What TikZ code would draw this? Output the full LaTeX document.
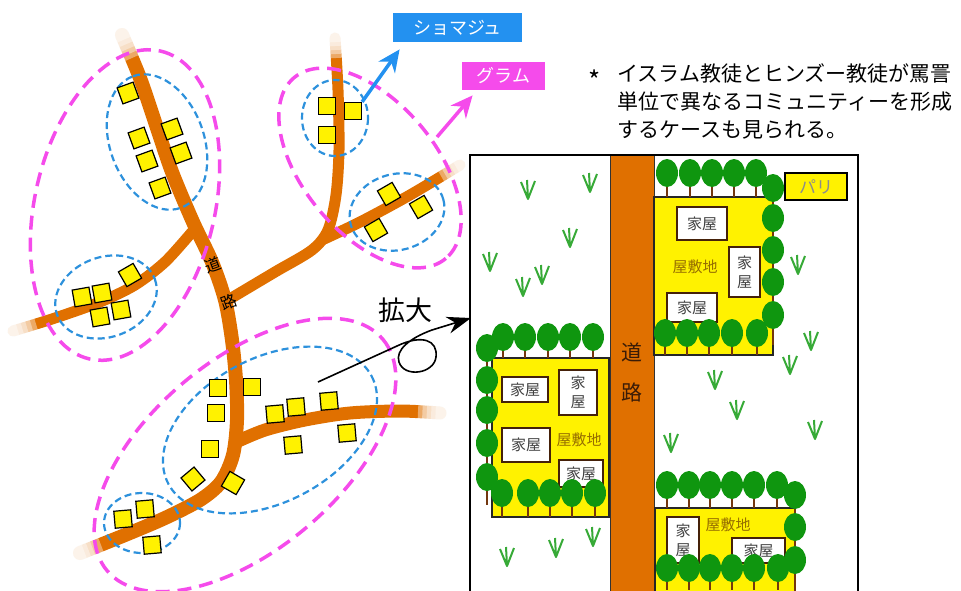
\documentclass[tikz,border=0pt]{standalone}
\usepackage{fontspec}
\setmainfont{Noto Sans CJK JP}
\usetikzlibrary{arrows.meta,calc}
\definecolor{roadorange}{RGB}{224,112,0}
\definecolor{grampink}{RGB}{245,75,235}
\definecolor{shomablue}{RGB}{35,145,240}
\definecolor{pathblue}{RGB}{45,145,220}
\definecolor{treegreen}{RGB}{15,150,15}
\definecolor{trunkbrown}{RGB}{115,55,15}
\definecolor{grassgreen}{RGB}{55,170,55}
\definecolor{yashikitext}{RGB}{150,110,0}
\newcommand{\fs}[1]{\fontsize{#1}{#1}\selectfont}
\newcommand{\treerow}[3]{\foreach \tx in {#3} {\draw[trunk] (\tx,#1) -- (\tx,#2); \fill[treegreen] (\tx,#1) ellipse [x radius=11,y radius=14];}}
\newcommand{\treecol}[2]{\foreach \ty in {#2} {\fill[treegreen] (#1,\ty) ellipse [x radius=11,y radius=14];}}

\begin{document}
\begin{tikzpicture}[x=1pt,y=-1pt,thick,
    roadline/.style={roadorange,line width=#1,line cap=round,line join=round},
    pinkdash/.style={grampink,line width=3.5pt,dash pattern=on 14pt off 8pt},
    bluedash/.style={pathblue,line width=2.2pt,dash pattern=on 7pt off 4pt},
    house/.style={draw,fill=yellow,line width=1.2pt,minimum size=17pt,inner sep=0pt},
    tag/.style={text=white,inner sep=0pt,font=\fs{18}},
    yard/.style={fill=yellow,draw=black!85,line width=1.2pt},
    hut/.style={draw=trunkbrown!60!black,fill=white,line width=1.3pt,inner sep=0pt,text=black!75,font=\fontsize{15}{19}\selectfont,align=center},
    trunk/.style={trunkbrown,line width=2.5pt},
    grass/.style={grassgreen,line width=2pt,line join=round},
    bigtip/.style={-{Stealth[length=22pt,width=20pt]}}]
\useasboundingbox (0,0) rectangle (961,590);

% village map
\draw[roadline=14pt] plot[smooth] coordinates {(122,35) (140,78) (156,125) (172,172) (193,222) (212,262) (225,300) (232,340) (236,380) (237,420) (233,455) (221,482) (200,500) (165,518) (125,535) (80,553)};
\draw[roadline=11pt] plot[smooth] coordinates {(192,232) (165,262) (135,285) (100,302) (55,318) (13,331)};
\draw[roadline=11pt] plot[smooth] coordinates {(228,300) (275,272) (312,250) (328,230) (336,195) (339,150) (338,90) (335,38)};
\draw[roadline=11pt] plot[smooth] coordinates {(322,240) (360,222) (410,195) (460,165)};
\draw[roadline=13pt] plot[smooth] coordinates {(236,442) (265,430) (305,420) (350,413) (400,411) (440,413)};
% roads fade out at their ends
\foreach \ex/\ey/\px/\py in {122/35/132/58, 335/38/336/58, 13/331/36/324, 460/165/441/176, 440/413/418/412, 80/553/101/545}
    \foreach \f in {0.2,0.4,0.6,0.8,1}
        \draw[white,opacity=0.4,line width=17pt] ($(\ex,\ey)!-0.35!(\px,\py)$) -- ($(\ex,\ey)!\f!(\px,\py)$);
\node (dou) [font=\fs{16},rotate=20] at (213,265) {道};
\node (ro) [font=\fs{16},rotate=20] at (229,302) {路};

\draw[pinkdash,rotate around={77:(125,205)}] (125,205) ellipse [x radius=158,y radius=90];
\draw[pinkdash,rotate around={-50:(370,168)}] (370,168) ellipse [x radius=118,y radius=66];
\draw[pinkdash,rotate around={40:(245,455)}] (245,455) ellipse [x radius=180,y radius=95];
\draw[bluedash,rotate around={110:(157,142)}] (157,142) ellipse [x radius=70,y radius=47];
\draw[bluedash,rotate around={20:(106,297)}] (106,297) ellipse [x radius=52,y radius=40];
\draw[bluedash] (335,118) ellipse [x radius=33,y radius=38];
\draw[bluedash,rotate around={15:(397,212)}] (397,212) ellipse [x radius=48,y radius=38];
\draw[bluedash,rotate around={28:(270,430)}] (270,430) ellipse [x radius=115,y radius=72];
\draw[bluedash] (142,523) ellipse [x radius=38,y radius=30];

\foreach \x/\y/\r [count=\i] in {128/93/20,139/138/20,172/129/20,147/161/20,181/153/20,160/188/20}
    \node (ha\i) [house,rotate=\r] at (\x,\y) {};
\foreach \x/\y [count=\i] in {327/106,353/111,327/135}
    \node (hb\i) [house] at (\x,\y) {};
\foreach \x/\y [count=\i] in {389/194,421/207,376/230}
    \node (hc\i) [house,rotate=30] at (\x,\y) {};
\foreach \x/\y/\r [count=\i] in {82/297/10,102/293/10,130/275/30,100/317/10,121/310/10}
    \node (hd\i) [house,rotate=\r] at (\x,\y) {};
\foreach \x/\y/\r [count=\i] in {218/388/0,252/387/0,216/413/0,210/449/0,275/414/5,296/407/5,329/401/5,293/445/5,347/433/5,193/479/40,233/483/-30}
    \node (he\i) [house,rotate=\r] at (\x,\y) {};
\foreach \x/\y [count=\i] in {123/519,145/509,152/545}
    \node (hf\i) [house,rotate=5] at (\x,\y) {};

\node (shoma) [tag,fill=shomablue,minimum width=129pt,minimum height=29pt] at (457.5,27.5) {ショマジュ};
\node (gram) [tag,fill=grampink,minimum width=83pt,minimum height=28pt] at (503.5,76) {グラム};
\draw[shomablue,line width=3.5pt,bigtip] (hb2.north east) -- ([xshift=7pt,yshift=-7pt]shoma.south west);
\coordinate (gtail) at (437,137);
\draw[grampink,line width=3.5pt,bigtip] (gtail) -- ([xshift=11pt,yshift=-5pt]gram.south west);

\node (star) [font=\fs{26}] at (595,80) {*};
\node (note) [anchor=north west,align=left,inner sep=0pt,font=\fontsize{21}{28}\selectfont] at (617,63) {イスラム教徒とヒンズー教徒が罵詈\\単位で異なるコミュニティーを形成\\するケースも見られる。};

% enlarged view
\foreach \gx/\gy in {528/190,590/183,570/238,490/262,523/287,542/275,798/265,811/341,790/365,715/380,737/410,815/430,671/443,507/557,556/548,593/537}
    \draw[grass,shift={(\gx,\gy)}] (-7,-8) -- (0,9) -- (7,-9) (0,9) -- (-1,-10);

\draw[fill=roadorange,draw=black!80,line width=1pt] (610,155) rectangle (654,600);
\node (michi) [font=\fs{21},text=trunkbrown!50!black] at (632,352) {道};
\node (ro2) [font=\fs{21},text=trunkbrown!50!black] at (632,392) {路};

\draw[yard] (654,197) rectangle (773,355);
\draw[yard] (492,358) rectangle (609,517);
\draw[yard] (655,508) rectangle (795,600);

\node (a1) [hut,minimum width=50pt,minimum height=33pt] at (702,223.5) {家屋};
\node (a2) [hut,minimum width=31pt,minimum height=50pt] at (744.5,272) {家\\屋};
\node (a3) [hut,minimum width=50pt,minimum height=29pt] at (692,307.5) {家屋};
\node (b1) [hut,minimum width=46pt,minimum height=25pt] at (525,389.5) {家屋};
\node (b2) [hut,minimum width=38pt,minimum height=45pt] at (578,392.5) {家\\屋};
\node (b3) [hut,minimum width=48pt,minimum height=34pt] at (526,445) {家屋};
\node (b4) [hut,minimum width=44pt,minimum height=27pt] at (581,473.5) {家屋};
\node (c1) [hut,minimum width=32pt,minimum height=46pt] at (683,540) {家\\屋};
\node (c2) [hut,minimum width=53pt,minimum height=25pt] at (758.5,550.5) {家屋};
\node (yasa) [font=\fs{15},text=yashikitext] at (695,267) {屋敷地};
\node (yasb) [font=\fs{15},text=yashikitext] at (579,440) {屋敷地};
\node (yasc) [font=\fs{15},text=yashikitext] at (728,525) {屋敷地};

\draw[trunk] (773,188) -- (773,345);
\draw[trunk] (487,350) -- (487,505);
\draw[trunk] (795,500) -- (795,600);
\treerow{173}{197}{667,690,712,734,756}
\treecol{773}{188,218,250,282,315}
\treerow{333}{355}{665,687,709,732,757}
\treerow{337}{358}{503,525,548,570,593}
\treecol{487}{348,380,410,443,477}
\treerow{493}{517}{502,528,550,572,595}
\treerow{485}{508}{667,689,710,732,754,777}
\treecol{795}{495,527,560}
\treerow{568}{590}{667,689,710,732,754,778}

\node (pari) [draw,fill=yellow,line width=1.2pt,minimum width=62pt,minimum height=27pt,inner sep=0pt,font=\fs{17},text=black!45] at (816,186.5) {パリ};

\draw[line width=1.8pt] (470,600) -- (470,155) -- (858,155) -- (858,600);

\coordinate (kfrom) at (318,382);
\coordinate (kto) at (471,318);
\draw[line width=1.6pt,-{Stealth[length=24pt,width=17pt]}] (kfrom) -- (397,346) .. controls (422,334) and (438,340) .. (436,357) .. controls (434,374) and (404,378) .. (399,362) .. controls (395,350) and (410,338) .. (432,330) -- (kto);
\node (kakudai) [font=\fs{27}] at (405,310) {拡大};
\end{tikzpicture}
\end{document}
